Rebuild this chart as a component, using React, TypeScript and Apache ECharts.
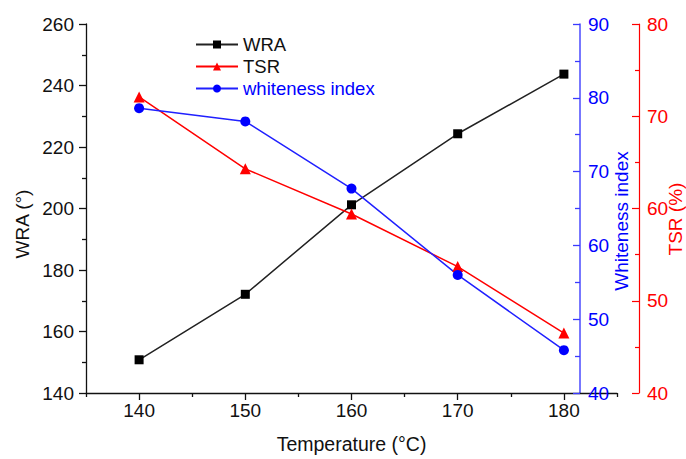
import React, { useEffect, useRef } from "react";
import * as echarts from "echarts";

const temperatures = [140, 150, 160, 170, 180];
const wraValues = [150.8, 172.1, 201.2, 224.3, 243.7];
const tsrValues = [72.1, 64.3, 59.4, 53.7, 46.5];
const whitenessValues = [78.6, 76.8, 67.7, 56.0, 45.8];
const xMajorTicks = [140, 150, 160, 170, 180];
const xMinorTicks = [135, 145, 155, 165, 175, 185];

const FONT = "'Liberation Sans', Arial, Helvetica, sans-serif";

export default function App() {
  const ref = useRef<HTMLDivElement>(null);
  useEffect(() => {
    if (!ref.current) return;
    const chart = echarts.init(ref.current, undefined, { renderer: "svg" });
    const pair = (vals: number[]) => temperatures.map((t, i) => [t, vals[i]]);
    chart.setOption({
      animation: false,
      backgroundColor: "#ffffff",
      textStyle: { fontFamily: FONT },
      grid: { left: 86, top: 24, width: 531, height: 373, containLabel: false },
      legend: {
        orient: "vertical",
        left: 190,
        top: 30,
        itemWidth: 42,
        itemHeight: 10,
        itemGap: 3,
        textStyle: { fontFamily: FONT, fontSize: 18.5, color: "#111" },
        data: [
          { name: "WRA" },
          { name: "TSR" },
          { name: "whiteness index", textStyle: { color: "#0000ff" } },
        ],
      },
      xAxis: [
        {
          type: "value",
          min: 135,
          max: 185,
          position: "bottom",
          name: "Temperature (°C)",
          nameLocation: "middle",
          nameGap: 41,
          nameTextStyle: { fontFamily: FONT, fontSize: 19.5, color: "#111" },
          axisLine: { show: true, onZero: false, lineStyle: { color: "#111", width: 1.3 } },
          axisTick: { show: true, length: 7, customValues: xMajorTicks, lineStyle: { color: "#111", width: 1.3 } },
          axisLabel: { customValues: xMajorTicks, fontFamily: FONT, fontSize: 19, color: "#111", margin: 8 },
          splitLine: { show: false },
        },
        {
          type: "value",
          min: 135,
          max: 185,
          position: "bottom",
          offset: 0,
          axisLine: { show: false, onZero: false },
          axisTick: { show: true, length: 4, customValues: xMinorTicks, lineStyle: { color: "#111", width: 1.3 } },
          axisLabel: { show: false },
          splitLine: { show: false },
        },
      ],
      yAxis: [
        {
          type: "value",
          min: 140,
          max: 260,
          interval: 20,
          position: "left",
          axisLine: { show: true, onZero: false, lineStyle: { color: "#111", width: 1.3 } },
          axisTick: { show: true, length: 7, lineStyle: { color: "#111", width: 1.3 } },
          minorTick: { show: true, splitNumber: 2, length: 4, lineStyle: { color: "#111", width: 1.3 } },
          axisLabel: { fontFamily: FONT, fontSize: 19, color: "#111", margin: 12 },
          splitLine: { show: false },
        },
        {
          type: "value",
          min: 40,
          max: 90,
          interval: 10,
          position: "right",
          offset: -37,
          axisLine: { show: true, onZero: false, lineStyle: { color: "#4a4aff", width: 1.5 } },
          axisTick: { show: true, inside: true, length: 7, lineStyle: { color: "#3a3aff", width: 1.3 } },
          minorTick: { show: true, splitNumber: 2, length: 5, lineStyle: { color: "#3a3aff", width: 1.3 } },
          axisLabel: { fontFamily: FONT, fontSize: 19, color: "#0000ff", margin: 8 },
          splitLine: { show: false },
        },
        {
          type: "value",
          min: 40,
          max: 80,
          interval: 10,
          position: "right",
          offset: 22,
          axisLine: { show: true, onZero: false, lineStyle: { color: "#ff0000", width: 1.2 } },
          axisTick: { show: true, inside: true, length: 7, lineStyle: { color: "#ff0000", width: 1.2 } },
          minorTick: { show: true, splitNumber: 2, length: 4, lineStyle: { color: "#ff0000", width: 1.2 } },
          axisLabel: { fontFamily: FONT, fontSize: 19, color: "#ff0000", margin: 8 },
          splitLine: { show: false },
        },
      ],
      series: [
        {
          name: "WRA",
          type: "line",
          xAxisIndex: 0,
          yAxisIndex: 0,
          data: pair(wraValues),
          symbol: "rect",
          symbolSize: 9,
          color: "#000000",
          lineStyle: { color: "#222", width: 1.5 },
          itemStyle: { color: "#000000" },
        },
        {
          name: "TSR",
          type: "line",
          xAxisIndex: 0,
          yAxisIndex: 2,
          data: pair(tsrValues),
          symbol: "triangle",
          symbolSize: 11,
          color: "#ff0000",
          lineStyle: { color: "#ff0000", width: 1.5 },
          itemStyle: { color: "#ff0000" },
        },
        {
          name: "whiteness index",
          type: "line",
          xAxisIndex: 0,
          yAxisIndex: 1,
          data: pair(whitenessValues),
          symbol: "circle",
          symbolSize: 10,
          color: "#0000ff",
          lineStyle: { color: "#2020ff", width: 1.5 },
          itemStyle: { color: "#0000ff" },
        },
      ],
      graphic: [
        {
          type: "text",
          x: 22,
          y: 224,
          rotation: Math.PI / 2,
          style: { text: "WRA (°)", fontFamily: FONT, fontSize: 19, fill: "#111", align: "center", verticalAlign: "middle" },
        },
        {
          type: "text",
          x: 621,
          y: 221,
          rotation: Math.PI / 2,
          style: { text: "Whiteness index", fontFamily: FONT, fontSize: 19, fill: "#0000ff", align: "center", verticalAlign: "middle" },
        },
        {
          type: "text",
          x: 675,
          y: 219,
          rotation: Math.PI / 2,
          style: { text: "TSR (%)", fontFamily: FONT, fontSize: 19, fill: "#ff0000", align: "center", verticalAlign: "middle" },
        },
      ],
    });
    return () => chart.dispose();
  }, []);
  return <div ref={ref} style={{ width: 686, height: 459, position: "absolute", left: 0, top: 0 }} />;
}
